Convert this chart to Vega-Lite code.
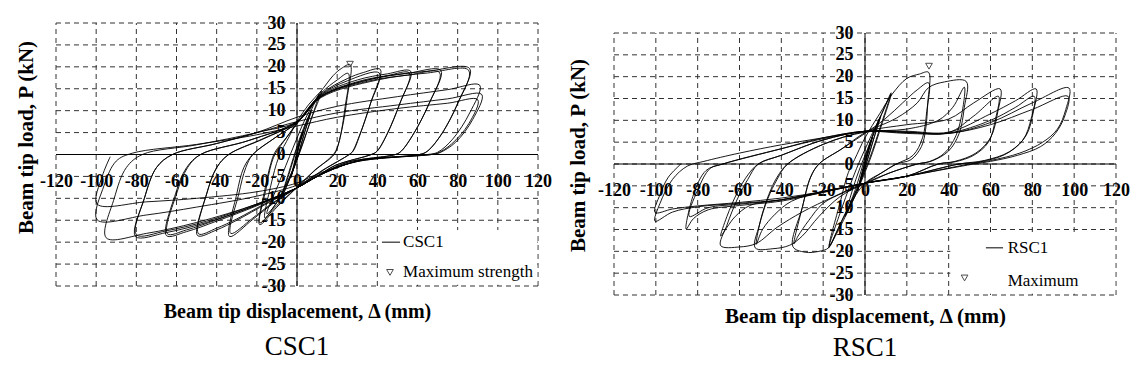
{
"$schema": "https://vega.github.io/schema/vega-lite/v6.json",
"padding": {"left": 15, "top": 12, "right": 5, "bottom": 5},
"spacing": 15,
"config": {"view": {"stroke": null}, "font": "Liberation Serif"},
"datasets": {
"gx": [{"v":-120},{"v":-100},{"v":-80},{"v":-60},{"v":-40},{"v":-20},{"v":0},{"v":20},{"v":40},{"v":60},{"v":80},{"v":100},{"v":120}],
"gy": [{"v":-30},{"v":-25},{"v":-20},{"v":-15},{"v":-10},{"v":-5},{"v":0},{"v":5},{"v":10},{"v":15},{"v":20},{"v":25},{"v":30}],
"csc1": [
{"x":0,"y":0},{"x":1.5,"y":2.8},{"x":3,"y":5},{"x":1,"y":2},{"x":-1,"y":-2},{"x":-3,"y":-5},{"x":-1,"y":-1.8},{"x":1,"y":2.2},{"x":3,"y":5.3},{"x":1,"y":2.3},{"x":-1.2,"y":-2.2},{"x":-3,"y":-5.3},
{"x":-0.5,"y":-0.3},{"x":3,"y":5},{"x":7,"y":9.8},{"x":4,"y":5.2},{"x":0,"y":-1},{"x":-4,"y":-6},{"x":-8,"y":-10},{"x":-4,"y":-4.5},{"x":0,"y":1.5},{"x":4,"y":6.5},{"x":7,"y":10},{"x":3,"y":4},{"x":-1,"y":-2.5},{"x":-5,"y":-7},{"x":-8,"y":-10.2},
{"x":-3,"y":-2.5},{"x":2,"y":4.5},{"x":7,"y":10},{"x":11,"y":13.8},{"x":7,"y":8},{"x":2,"y":1.5},{"x":-4,"y":-5.5},{"x":-10,"y":-11},{"x":-15,"y":-13.5},{"x":-9,"y":-6.5},{"x":-2,"y":1.5},{"x":4,"y":8},{"x":9,"y":12.2},{"x":12.4,"y":14.5},{"x":7,"y":8},{"x":1,"y":0},{"x":-5,"y":-6.5},{"x":-11,"y":-11.5},{"x":-16,"y":-14.5},
{"x":-13,"y":-7},{"x":-9,"y":-0.5},{"x":-4,"y":4},{"x":0,"y":7.5},{"x":6,"y":11.5},{"x":12,"y":14.5},{"x":18,"y":18},{"x":22,"y":19.6},{"x":26.5,"y":20.5},
{"x":25,"y":13},{"x":22.5,"y":6},{"x":19.5,"y":1},{"x":17,"y":-0.5},{"x":8,"y":-4},{"x":0,"y":-7.5},{"x":-10,"y":-12},{"x":-18.6,"y":-16},
{"x":-16,"y":-8},{"x":-13,"y":-2},{"x":-11,"y":0.5},{"x":-5,"y":4},{"x":0,"y":7},{"x":12,"y":14},{"x":20,"y":17},{"x":25.5,"y":18.5},
{"x":24,"y":11},{"x":21,"y":3},{"x":18.5,"y":0},{"x":9,"y":-3.5},{"x":0,"y":-7.5},{"x":-10,"y":-11.6},{"x":-18.5,"y":-15.6},
{"x":-15.5,"y":-8},{"x":-13,"y":-2.5},{"x":-11,"y":0},{"x":-5,"y":4},{"x":0,"y":7.2},{"x":12,"y":13.8},{"x":25,"y":17.3},{"x":33,"y":18.7},{"x":41.5,"y":19.4},
{"x":37,"y":12.2},{"x":31.5,"y":4.7},{"x":28,"y":0.8},{"x":26,"y":0},{"x":13,"y":-3.5},{"x":0,"y":-7.5},{"x":-12,"y":-11.2},{"x":-22,"y":-14.8},{"x":-33.6,"y":-18.7},
{"x":-30,"y":-9},{"x":-26.5,"y":-3},{"x":-22,"y":0},{"x":-11,"y":3.8},{"x":0,"y":7.3},{"x":12,"y":13.6},{"x":25,"y":16.8},{"x":41,"y":18.6},
{"x":36.5,"y":11.5},{"x":31,"y":4.2},{"x":27.5,"y":0.6},{"x":26,"y":0},{"x":13,"y":-3.6},{"x":0,"y":-7.6},{"x":-12,"y":-11},{"x":-22,"y":-14.5},{"x":-33,"y":-18},
{"x":-29,"y":-9},{"x":-25.5,"y":-3},{"x":-22,"y":0},{"x":-11,"y":3.8},{"x":0,"y":7.3},{"x":12,"y":13.5},{"x":30,"y":17},{"x":45,"y":18.4},{"x":56.6,"y":19},
{"x":51.5,"y":12},{"x":45,"y":4.8},{"x":40,"y":0.8},{"x":37,"y":0},{"x":19,"y":-2.5},{"x":10,"y":-5},{"x":0,"y":-7.6},{"x":-15,"y":-11.2},{"x":-30,"y":-15},{"x":-40,"y":-17.2},{"x":-49.5,"y":-18.5},
{"x":-45,"y":-9},{"x":-40,"y":-3},{"x":-34,"y":0},{"x":-17,"y":3.5},{"x":0,"y":7.4},{"x":12,"y":13.3},{"x":30,"y":16.6},{"x":45,"y":18},{"x":56,"y":18.6},
{"x":51,"y":11.4},{"x":44.5,"y":4.3},{"x":39.5,"y":0.6},{"x":37,"y":0},{"x":19,"y":-2.5},{"x":10,"y":-5},{"x":0,"y":-7.6},{"x":-15,"y":-11},{"x":-30,"y":-14.7},{"x":-40,"y":-16.8},{"x":-49,"y":-18.1},
{"x":-45,"y":-9},{"x":-40,"y":-3},{"x":-34,"y":0},{"x":-17,"y":3.6},{"x":0,"y":7.4},{"x":12,"y":13.3},{"x":35,"y":17},{"x":55,"y":18.5},{"x":71.6,"y":19.2},
{"x":66.2,"y":12},{"x":58,"y":4.7},{"x":52,"y":0.8},{"x":49,"y":0},{"x":25,"y":-1.8},{"x":10,"y":-5},{"x":0,"y":-7.6},{"x":-20,"y":-11.7},{"x":-40,"y":-15.2},{"x":-55,"y":-17.6},{"x":-65,"y":-18.5},
{"x":-60.5,"y":-9},{"x":-55,"y":-3},{"x":-48,"y":0},{"x":-24,"y":3.2},{"x":0,"y":7.5},{"x":12,"y":13.2},{"x":35,"y":16.7},{"x":55,"y":18.1},{"x":71,"y":18.7},
{"x":65.5,"y":11.4},{"x":57.5,"y":4.3},{"x":51.5,"y":0.6},{"x":49,"y":0},{"x":25,"y":-1.8},{"x":10,"y":-5},{"x":0,"y":-7.6},{"x":-20,"y":-11.5},{"x":-40,"y":-14.9},{"x":-55,"y":-17.2},{"x":-64.5,"y":-18.1},
{"x":-60,"y":-9},{"x":-54.5,"y":-3},{"x":-48,"y":0},{"x":-24,"y":3.2},{"x":0,"y":7.5},{"x":12,"y":13.2},{"x":40,"y":17.5},{"x":65,"y":19},{"x":86,"y":19.6},
{"x":80.5,"y":12.2},{"x":72,"y":4.7},{"x":65,"y":0.8},{"x":61,"y":0},{"x":30,"y":-1.5},{"x":10,"y":-5},{"x":0,"y":-7.6},{"x":-20,"y":-11.5},{"x":-45,"y":-15.5},{"x":-65,"y":-17.8},{"x":-80.4,"y":-18.7},
{"x":-76,"y":-10},{"x":-70,"y":-3},{"x":-62,"y":0},{"x":-40,"y":2.5},{"x":-20,"y":5},{"x":0,"y":7.5},{"x":12,"y":13},{"x":40,"y":17},{"x":65,"y":18.6},{"x":85.5,"y":19.2},
{"x":80,"y":11.6},{"x":71.5,"y":4.3},{"x":64.5,"y":0.6},{"x":61,"y":0},{"x":30,"y":-1.5},{"x":10,"y":-5},{"x":0,"y":-7.6},{"x":-20,"y":-11.3},{"x":-45,"y":-15.2},{"x":-65,"y":-17.4},{"x":-80,"y":-18.3},
{"x":-76,"y":-10},{"x":-70,"y":-3},{"x":-62,"y":0},{"x":-40,"y":2.5},{"x":-20,"y":5},{"x":0,"y":8.5},{"x":20,"y":11},{"x":50,"y":13.2},{"x":75,"y":14.8},{"x":91,"y":15.8},
{"x":86,"y":9.5},{"x":77.5,"y":3.5},{"x":70,"y":0.5},{"x":65,"y":0},{"x":30,"y":-1.5},{"x":10,"y":-5},{"x":0,"y":-7.6},{"x":-20,"y":-11.3},{"x":-50,"y":-15.5},{"x":-75,"y":-18},{"x":-95,"y":-19},
{"x":-91,"y":-10},{"x":-85,"y":-3},{"x":-77,"y":0},{"x":-50,"y":2.2},{"x":-20,"y":5},{"x":0,"y":7.5},{"x":20,"y":9.5},{"x":50,"y":11.3},{"x":75,"y":12.7},{"x":92,"y":13.7},
{"x":87.5,"y":8},{"x":79,"y":2.8},{"x":71,"y":0.4},{"x":67,"y":0},{"x":30,"y":-1.6},{"x":10,"y":-4.8},{"x":0,"y":-7},{"x":-20,"y":-9.5},{"x":-50,"y":-12},{"x":-75,"y":-13.8},{"x":-99.5,"y":-14.9},
{"x":-96,"y":-7},{"x":-90,"y":-1.5},{"x":-82,"y":0.3},{"x":-50,"y":2.3},{"x":-20,"y":4.5},{"x":0,"y":6.5},{"x":20,"y":8.5},{"x":50,"y":10.5},{"x":75,"y":11.7},{"x":90,"y":12.5},
{"x":85.5,"y":7},{"x":77,"y":2.4},{"x":70,"y":0.3},{"x":67,"y":0},{"x":30,"y":-1.6},{"x":10,"y":-4.5},{"x":0,"y":-6.5},{"x":-20,"y":-8.5},{"x":-50,"y":-10},{"x":-75,"y":-10.8},{"x":-99.5,"y":-11.3},
{"x":-97,"y":-5},{"x":-93,"y":-0.5}
],
"rsc1": [
{"x":0,"y":0},{"x":2,"y":3.5},{"x":3.5,"y":6},{"x":1,"y":2},{"x":-1.5,"y":-2.5},{"x":-3.5,"y":-6},{"x":-1,"y":-1.5},{"x":1.5,"y":3},{"x":3.5,"y":6.2},{"x":1,"y":1.8},{"x":-1.5,"y":-2.8},{"x":-3.5,"y":-6.2},
{"x":-1,"y":-1},{"x":3,"y":5.5},{"x":7,"y":10.5},{"x":4,"y":5.5},{"x":0,"y":-1},{"x":-4,"y":-6.5},{"x":-9,"y":-11.5},{"x":-4,"y":-5},{"x":0,"y":1.5},{"x":4,"y":7},{"x":7.5,"y":11},{"x":3,"y":4},{"x":-2,"y":-3.5},{"x":-6,"y":-8},{"x":-9.5,"y":-12},
{"x":-4,"y":-3},{"x":3,"y":5.5},{"x":8,"y":11.5},{"x":12.5,"y":16.3},{"x":8,"y":9.5},{"x":2,"y":1},{"x":-5,"y":-7},{"x":-12,"y":-14},{"x":-17.4,"y":-19.2},{"x":-11,"y":-10},{"x":-4,"y":-1},{"x":3,"y":6.5},{"x":8,"y":11.5},{"x":12.5,"y":16},{"x":8,"y":9},{"x":2,"y":0.5},{"x":-5,"y":-7.5},{"x":-12,"y":-14.5},{"x":-17,"y":-18.7},
{"x":-12,"y":-9},{"x":-8,"y":-2},{"x":-5,"y":1},{"x":0,"y":6},{"x":7,"y":11.5},{"x":13,"y":16},{"x":20,"y":19.6},{"x":26,"y":20.6},{"x":30.4,"y":21},
{"x":30,"y":14},{"x":29,"y":8},{"x":27,"y":4},{"x":22,"y":1},{"x":15,"y":0},{"x":8,"y":-2},{"x":0,"y":-4.4},{"x":-8,"y":-10},{"x":-14,"y":-16},{"x":-17.4,"y":-19.2},{"x":-22,"y":-20},{"x":-28.6,"y":-20.2},{"x":-34.5,"y":-18.9},
{"x":-30,"y":-10},{"x":-26,"y":-3},{"x":-22,"y":0},{"x":-11,"y":3.5},{"x":0,"y":7},{"x":10,"y":10.5},{"x":18,"y":14},{"x":25,"y":17},{"x":30.4,"y":18.6},
{"x":29.5,"y":12},{"x":27.5,"y":6},{"x":23,"y":2},{"x":15,"y":0},{"x":8,"y":-2},{"x":0,"y":-4.4},{"x":-10,"y":-6.5},{"x":-20,"y":-9},{"x":-27,"y":-13},{"x":-32,"y":-16.5},{"x":-34,"y":-18.3},
{"x":-30,"y":-10},{"x":-26,"y":-3},{"x":-22,"y":0},{"x":-11,"y":3.5},{"x":0,"y":7.2},{"x":15,"y":10.5},{"x":25,"y":14},{"x":30.4,"y":17.5},{"x":38,"y":18.8},{"x":48.4,"y":18.9},
{"x":47.5,"y":13},{"x":45,"y":7},{"x":40,"y":3},{"x":32,"y":0.7},{"x":25,"y":0},{"x":12,"y":-2},{"x":0,"y":-4.4},{"x":-12,"y":-7.5},{"x":-22,"y":-12},{"x":-30,"y":-16.5},{"x":-36,"y":-18.6},{"x":-44,"y":-19.4},{"x":-52.5,"y":-19.2},
{"x":-50.5,"y":-14},{"x":-46.5,"y":-8},{"x":-42,"y":-3.5},{"x":-37,"y":0},{"x":-20,"y":4.5},{"x":0,"y":7.3},{"x":20,"y":8},{"x":35,"y":10},{"x":42,"y":13},{"x":47.5,"y":17.6},
{"x":46.5,"y":12},{"x":43.5,"y":6.5},{"x":38,"y":2.5},{"x":31,"y":0.6},{"x":25,"y":0},{"x":12,"y":-2},{"x":0,"y":-4.4},{"x":-20,"y":-6.3},{"x":-35,"y":-8.5},{"x":-43,"y":-11.5},{"x":-49,"y":-15},{"x":-52,"y":-18.4},
{"x":-50,"y":-13},{"x":-46,"y":-7},{"x":-42,"y":-3},{"x":-37,"y":0},{"x":-20,"y":4.5},{"x":0,"y":7.5},{"x":20,"y":9},{"x":40,"y":10.3},{"x":52,"y":14},{"x":64.6,"y":17.2},
{"x":63.5,"y":12},{"x":60,"y":6},{"x":53,"y":2.5},{"x":43,"y":0.6},{"x":35,"y":0},{"x":20,"y":-2.8},{"x":0,"y":-4.4},{"x":-15,"y":-7.5},{"x":-30,"y":-11},{"x":-42,"y":-14.5},{"x":-52,"y":-18.2},{"x":-60,"y":-19},{"x":-69,"y":-18.7},
{"x":-66,"y":-14},{"x":-61,"y":-8},{"x":-56,"y":-3.5},{"x":-51,"y":0},{"x":-40,"y":2},{"x":-20,"y":5.5},{"x":0,"y":7.5},{"x":20,"y":7.3},{"x":40,"y":7.2},{"x":52,"y":11},{"x":63.8,"y":15.5},
{"x":62.5,"y":10.5},{"x":59,"y":5},{"x":52,"y":2},{"x":43,"y":0.5},{"x":35,"y":0},{"x":20,"y":-2.8},{"x":0,"y":-4.4},{"x":-20,"y":-6.3},{"x":-40,"y":-8.2},{"x":-55,"y":-9.5},{"x":-62,"y":-12},{"x":-66,"y":-14.5},{"x":-69,"y":-16.5},
{"x":-66,"y":-12},{"x":-61,"y":-6.5},{"x":-56,"y":-2.5},{"x":-51,"y":0},{"x":-40,"y":2},{"x":-20,"y":5.5},{"x":0,"y":7.5},{"x":20,"y":7.5},{"x":40,"y":7.3},{"x":60,"y":11.5},{"x":72,"y":14.5},{"x":81.8,"y":17.2},
{"x":80.5,"y":12},{"x":77,"y":6.5},{"x":69,"y":2.8},{"x":57,"y":0.8},{"x":45,"y":0},{"x":20,"y":-2.8},{"x":0,"y":-4.4},{"x":-20,"y":-6.5},{"x":-40,"y":-8.5},{"x":-60,"y":-9.5},{"x":-75,"y":-10.5},{"x":-82,"y":-12.5},{"x":-85.5,"y":-14.9},
{"x":-82,"y":-7},{"x":-76,"y":-1.5},{"x":-68,"y":0},{"x":-40,"y":3.5},{"x":-20,"y":5.8},{"x":0,"y":7.4},{"x":20,"y":7.2},{"x":40,"y":7.1},{"x":60,"y":10},{"x":72,"y":13},{"x":80.9,"y":15.5},
{"x":79.5,"y":10.5},{"x":75.5,"y":5.5},{"x":67,"y":2.2},{"x":55,"y":0.5},{"x":45,"y":0},{"x":20,"y":-2.8},{"x":0,"y":-4.4},{"x":-20,"y":-6.3},{"x":-40,"y":-8.2},{"x":-60,"y":-9.2},{"x":-75,"y":-10},{"x":-84,"y":-12},
{"x":-80,"y":-6},{"x":-74,"y":-1},{"x":-68,"y":0},{"x":-40,"y":3.5},{"x":-20,"y":6},{"x":0,"y":7.5},{"x":20,"y":7.3},{"x":40,"y":7},{"x":60,"y":9.5},{"x":80,"y":14},{"x":97.5,"y":17.4},
{"x":96,"y":12.5},{"x":92,"y":8},{"x":85,"y":5},{"x":74,"y":2.5},{"x":60,"y":0.8},{"x":50,"y":0},{"x":20,"y":-2.8},{"x":0,"y":-4.4},{"x":-20,"y":-6.5},{"x":-40,"y":-8.2},{"x":-60,"y":-9},{"x":-80,"y":-9.8},{"x":-92,"y":-11},{"x":-100.4,"y":-13.1},
{"x":-98,"y":-9},{"x":-92,"y":-3.5},{"x":-85,"y":-0.5},{"x":-77,"y":0.6},{"x":-60,"y":2.5},{"x":-40,"y":4.4},{"x":-20,"y":6},{"x":0,"y":7.5},{"x":20,"y":7},{"x":40,"y":7},{"x":60,"y":9},{"x":80,"y":12.5},{"x":97.1,"y":15.5},
{"x":95.5,"y":11},{"x":91,"y":7},{"x":84,"y":4},{"x":73,"y":2},{"x":60,"y":0.6},{"x":52,"y":0},{"x":20,"y":-2.8},{"x":0,"y":-4.4},{"x":-20,"y":-6.3},{"x":-40,"y":-7.8},{"x":-60,"y":-8.8},{"x":-80,"y":-9.6},{"x":-92,"y":-10.3},{"x":-100.4,"y":-11.1},
{"x":-98,"y":-7},{"x":-94,"y":-3},{"x":-88,"y":0}
]
},
"hconcat": [
{
"width": 482, "height": 274,
"title": {"text": "CSC1", "orient": "bottom", "font": "Liberation Serif", "fontSize": 27, "fontWeight": "normal", "color": "black", "offset": 13},
"layer": [
{"data": {"name": "gx"}, "mark": {"type": "rule", "stroke": "#333", "strokeDash": [5, 4], "strokeWidth": 1},
 "encoding": {"x": {"field": "v", "type": "quantitative", "scale": {"domain": [-120, 120], "nice": false, "zero": false}, "axis": null},
  "y": {"datum": -30, "type": "quantitative", "scale": {"domain": [-30, 32.51], "nice": false, "zero": false}, "axis": null},
  "y2": {"datum": 30}}},
{"data": {"name": "gy"}, "mark": {"type": "rule", "stroke": "#333", "strokeDash": [5, 4], "strokeWidth": 1},
 "encoding": {"y": {"field": "v", "type": "quantitative", "scale": {"domain": [-30, 32.51], "nice": false, "zero": false}, "axis": null},
  "x": {"datum": -120, "type": "quantitative", "scale": {"domain": [-120, 120], "nice": false, "zero": false}, "axis": null},
  "x2": {"datum": 120}}},
{"data": {"values": [{}]}, "mark": {"type": "rect", "color": "white"},
 "encoding": {"x": {"datum": 40.5, "type": "quantitative", "axis": null}, "x2": {"datum": 119.6}, "y": {"datum": -29.7, "type": "quantitative", "axis": null}, "y2": {"datum": -17.2}}},
{"data": {"values": [{}]}, "mark": {"type": "rule", "color": "black", "strokeWidth": 1},
 "encoding": {"x": {"datum": 0, "type": "quantitative", "axis": null}, "y": {"datum": -30, "type": "quantitative", "axis": null}, "y2": {"datum": 30}}},
{"data": {"values": [{}]}, "mark": {"type": "rule", "color": "black", "strokeWidth": 1},
 "encoding": {"y": {"datum": 0, "type": "quantitative", "axis": null}, "x": {"datum": -120, "type": "quantitative", "axis": null}, "x2": {"datum": 120}}},
{"data": {"name": "csc1"}, "mark": {"type": "line", "color": "black", "strokeWidth": 0.9, "interpolate": "catmull-rom"},
 "encoding": {
  "x": {"field": "x", "type": "quantitative", "scale": {"domain": [-120, 120], "nice": false, "zero": false},
   "axis": {"orient": "bottom", "labels": false, "ticks": false, "domain": false, "grid": false, "title": "Beam tip displacement, Δ (mm)", "titleFont": "Liberation Serif", "titleFontWeight": "bold", "titleFontSize": 20, "titleColor": "black", "titlePadding": 15}},
  "y": {"field": "y", "type": "quantitative", "scale": {"domain": [-30, 32.51], "nice": false, "zero": false},
   "axis": {"orient": "left", "labels": false, "ticks": false, "domain": false, "grid": false, "title": "Beam tip load,  P  (kN)", "titleFont": "Liberation Serif", "titleFontWeight": "bold", "titleFontSize": 21, "titleColor": "black", "titlePadding": 20, "titleY": 125}},
  "order": {"value": null}}},
{"data": {"values": [{"t": "CSC1"}]}, "mark": {"type": "rule", "color": "black", "strokeWidth": 1},
 "encoding": {"x": {"datum": 42.3, "type": "quantitative", "axis": null}, "x2": {"datum": 51.3}, "y": {"datum": -20, "type": "quantitative", "axis": null}}},
{"data": {"values": [{"t": "CSC1"}]}, "mark": {"type": "text", "align": "left", "baseline": "middle", "font": "Liberation Serif", "fontSize": 17, "color": "black"},
 "encoding": {"x": {"datum": 52.8, "type": "quantitative", "axis": null}, "y": {"datum": -20, "type": "quantitative", "axis": null}, "text": {"field": "t"}}},
{"data": {"values": [{"t": "Maximum strength"}]}, "mark": {"type": "point", "shape": "triangle-down", "filled": false, "color": "black", "strokeWidth": 1, "size": 45},
 "encoding": {"x": {"datum": 46.3, "type": "quantitative", "axis": null}, "y": {"datum": -26.9, "type": "quantitative", "axis": null}}},
{"data": {"values": [{"t": "Maximum strength"}]}, "mark": {"type": "text", "align": "left", "baseline": "middle", "font": "Liberation Serif", "fontSize": 17, "color": "black"},
 "encoding": {"x": {"datum": 52.8, "type": "quantitative", "axis": null}, "y": {"datum": -26.9, "type": "quantitative", "axis": null}, "text": {"field": "t"}}},
{"data": {"values": [{"x": 26.4, "y": 20.6}]}, "mark": {"type": "point", "shape": "triangle-down", "filled": false, "color": "black", "strokeWidth": 1, "size": 45},
 "encoding": {
  "x": {"field": "x", "type": "quantitative", "scale": {"domain": [-120, 120], "nice": false, "zero": false},
   "axis": {"orient": "top", "offset": -169.5, "values": [-120,-100,-80,-60,-40,-20,0,20,40,60,80,100,120], "domain": false, "ticks": false, "grid": false, "labelPadding": 0, "labelBaseline": "middle", "labelFont": "Liberation Serif", "labelFontWeight": "bold", "labelFontSize": 18, "labelColor": "black", "labelFlush": false, "labelOverlap": false, "labelExpr": "toString(datum.value)", "title": null}},
  "y": {"field": "y", "type": "quantitative", "scale": {"domain": [-30, 32.51], "nice": false, "zero": false},
   "axis": {"orient": "right", "offset": -253, "values": [-30,-25,-20,-15,-10,-5,0,5,10,15,20,25,30], "domain": false, "ticks": false, "grid": false, "labelPadding": 0, "labelAlign": "right", "labelBaseline": "middle", "labelFont": "Liberation Serif", "labelFontWeight": "bold", "labelFontSize": 18, "labelColor": "black", "labelFlush": false, "labelOverlap": false, "labelExpr": "toString(datum.value)", "title": null}}}}
],
"resolve": {"axis": {"x": "independent", "y": "independent"}}
},
{
"width": 502, "height": 283,
"title": {"text": "RSC1", "orient": "bottom", "font": "Liberation Serif", "fontSize": 27, "fontWeight": "normal", "color": "black", "offset": 9},
"layer": [
{"data": {"name": "gx"}, "mark": {"type": "rule", "stroke": "#333", "strokeDash": [5, 4], "strokeWidth": 1},
 "encoding": {"x": {"field": "v", "type": "quantitative", "scale": {"domain": [-120, 120], "nice": false, "zero": false}, "axis": null},
  "y": {"datum": -30, "type": "quantitative", "scale": {"domain": [-30, 34.81], "nice": false, "zero": false}, "axis": null},
  "y2": {"datum": 30}}},
{"data": {"name": "gy"}, "mark": {"type": "rule", "stroke": "#333", "strokeDash": [5, 4], "strokeWidth": 1},
 "encoding": {"y": {"field": "v", "type": "quantitative", "scale": {"domain": [-30, 34.81], "nice": false, "zero": false}, "axis": null},
  "x": {"datum": -120, "type": "quantitative", "scale": {"domain": [-120, 120], "nice": false, "zero": false}, "axis": null},
  "x2": {"datum": 120}}},
{"data": {"values": [{}]}, "mark": {"type": "rect", "color": "white"},
 "encoding": {"x": {"datum": 40.8, "type": "quantitative", "axis": null}, "x2": {"datum": 119.6}, "y": {"datum": -29.7, "type": "quantitative", "axis": null}, "y2": {"datum": -16.3}}},
{"data": {"values": [{}]}, "mark": {"type": "rule", "color": "black", "strokeWidth": 1},
 "encoding": {"x": {"datum": 0, "type": "quantitative", "axis": null}, "y": {"datum": -30, "type": "quantitative", "axis": null}, "y2": {"datum": 30}}},
{"data": {"values": [{}]}, "mark": {"type": "rule", "color": "black", "strokeWidth": 1},
 "encoding": {"y": {"datum": 0, "type": "quantitative", "axis": null}, "x": {"datum": -120, "type": "quantitative", "axis": null}, "x2": {"datum": 120}}},
{"data": {"name": "rsc1"}, "mark": {"type": "line", "color": "black", "strokeWidth": 0.9, "interpolate": "catmull-rom"},
 "encoding": {
  "x": {"field": "x", "type": "quantitative", "scale": {"domain": [-120, 120], "nice": false, "zero": false},
   "axis": {"orient": "bottom", "labels": false, "ticks": false, "domain": false, "grid": false, "title": "Beam tip displacement, Δ (mm)", "titleFont": "Liberation Serif", "titleFontWeight": "bold", "titleFontSize": 21, "titleColor": "black", "titlePadding": 10}},
  "y": {"field": "y", "type": "quantitative", "scale": {"domain": [-30, 34.81], "nice": false, "zero": false},
   "axis": {"orient": "left", "labels": false, "ticks": false, "domain": false, "grid": false, "title": "Beam tip load,  P  (kN)", "titleFont": "Liberation Serif", "titleFontWeight": "bold", "titleFontSize": 21, "titleColor": "black", "titlePadding": 26, "titleY": 143}},
  "order": {"value": null}}},
{"data": {"values": [{"t": "RSC1"}]}, "mark": {"type": "rule", "color": "black", "strokeWidth": 1},
 "encoding": {"x": {"datum": 57.8, "type": "quantitative", "axis": null}, "x2": {"datum": 66}, "y": {"datum": -19.2, "type": "quantitative", "axis": null}}},
{"data": {"values": [{"t": "RSC1"}]}, "mark": {"type": "text", "align": "left", "baseline": "middle", "font": "Liberation Serif", "fontSize": 17, "color": "black"},
 "encoding": {"x": {"datum": 68.2, "type": "quantitative", "axis": null}, "y": {"datum": -19.2, "type": "quantitative", "axis": null}, "text": {"field": "t"}}},
{"data": {"values": [{"t": "Maximum"}]}, "mark": {"type": "point", "shape": "triangle-down", "filled": false, "color": "black", "strokeWidth": 1, "size": 45},
 "encoding": {"x": {"datum": 47.6, "type": "quantitative", "axis": null}, "y": {"datum": -26.1, "type": "quantitative", "axis": null}}},
{"data": {"values": [{"t": "Maximum"}]}, "mark": {"type": "text", "align": "left", "baseline": "middle", "font": "Liberation Serif", "fontSize": 17, "color": "black"},
 "encoding": {"x": {"datum": 68.2, "type": "quantitative", "axis": null}, "y": {"datum": -26.8, "type": "quantitative", "axis": null}, "text": {"field": "t"}}},
{"data": {"values": [{"x": 30.6, "y": 22.4}]}, "mark": {"type": "point", "shape": "triangle-down", "filled": false, "color": "black", "strokeWidth": 1, "size": 45},
 "encoding": {
  "x": {"field": "x", "type": "quantitative", "scale": {"domain": [-120, 120], "nice": false, "zero": false},
   "axis": {"orient": "top", "offset": -178, "values": [-120,-100,-80,-60,-40,-20,0,20,40,60,80,100,120], "domain": false, "ticks": false, "grid": false, "labelPadding": 0, "labelBaseline": "middle", "labelFont": "Liberation Serif", "labelFontWeight": "bold", "labelFontSize": 18, "labelColor": "black", "labelFlush": false, "labelOverlap": false, "labelExpr": "toString(datum.value)", "title": null}},
  "y": {"field": "y", "type": "quantitative", "scale": {"domain": [-30, 34.81], "nice": false, "zero": false},
   "axis": {"orient": "right", "offset": -263, "values": [-30,-25,-20,-15,-10,-5,0,5,10,15,20,25,30], "domain": false, "ticks": false, "grid": false, "labelPadding": 0, "labelAlign": "right", "labelBaseline": "middle", "labelFont": "Liberation Serif", "labelFontWeight": "bold", "labelFontSize": 18, "labelColor": "black", "labelFlush": false, "labelOverlap": false, "labelExpr": "toString(datum.value)", "title": null}}}}
],
"resolve": {"axis": {"x": "independent", "y": "independent"}}
}
]
}
